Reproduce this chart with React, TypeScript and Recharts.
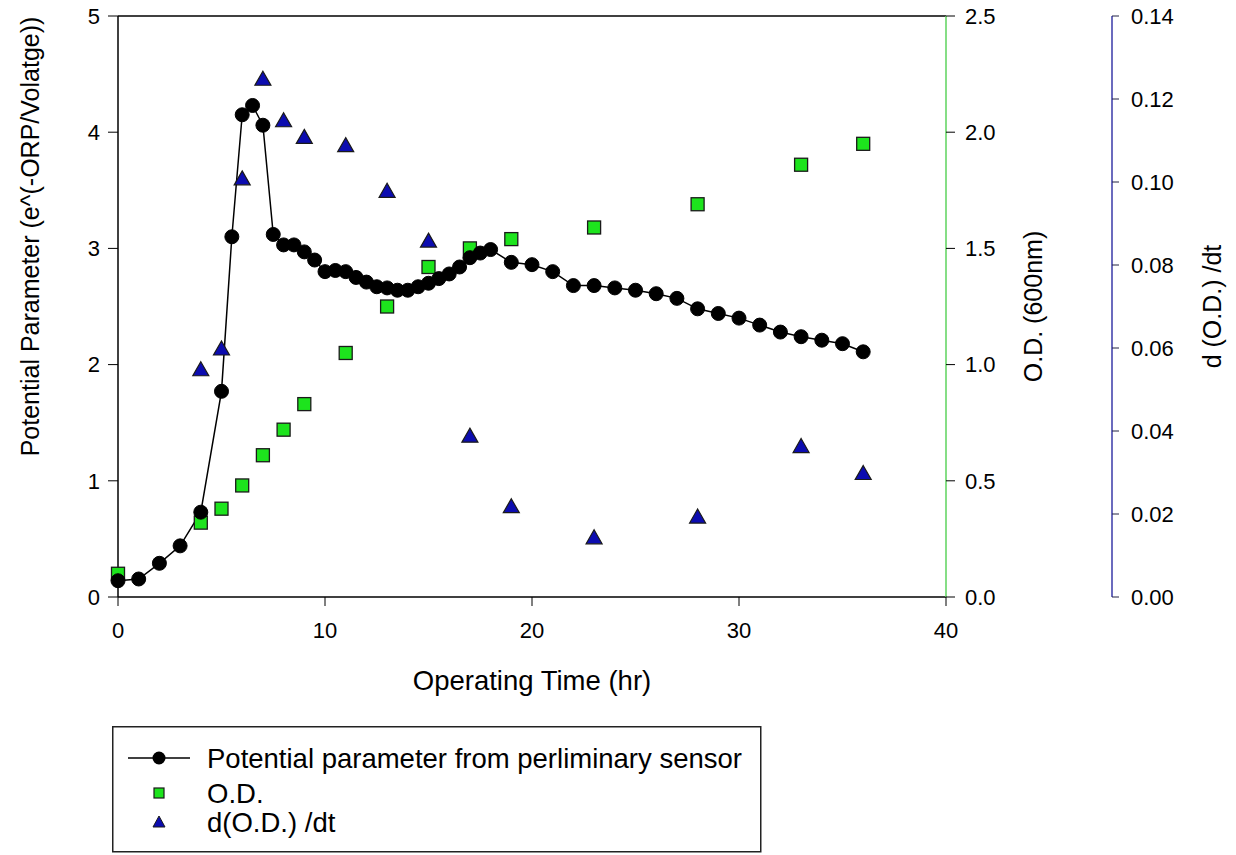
import React from "react";
import { ComposedChart, Line, Scatter, XAxis, YAxis, ReferenceLine, Legend } from "recharts";

// operating time (hr) and potential parameter from the sensor
const potentialTime = [
  0, 1, 2, 3, 4, 5, 5.5, 6, 6.5, 7, 7.5, 8, 8.5, 9, 9.5, 10, 10.5, 11, 11.5, 12, 12.5, 13, 13.5, 14,
  14.5, 15, 15.5, 16, 16.5, 17, 17.5, 18, 19, 20, 21, 22, 23, 24, 25, 26, 27, 28, 29, 30, 31, 32, 33,
  34, 35, 36,
];
const potentialValues = [
  0.14, 0.155, 0.29, 0.44, 0.73, 1.77, 3.1, 4.15, 4.23, 4.06, 3.12, 3.03, 3.03, 2.97, 2.9, 2.8, 2.81,
  2.8, 2.75, 2.71, 2.67, 2.66, 2.64, 2.64, 2.67, 2.7, 2.74, 2.78, 2.84, 2.92, 2.96, 2.99, 2.88, 2.86,
  2.8, 2.68, 2.68, 2.66, 2.64, 2.61, 2.57, 2.48, 2.44, 2.4, 2.34, 2.28, 2.24, 2.21, 2.18, 2.11,
];

// O.D. (600nm)
const odTime = [0, 4, 5, 6, 7, 8, 9, 11, 13, 15, 17, 19, 23, 28, 33, 36];
const odValues = [0.1, 0.32, 0.38, 0.48, 0.61, 0.72, 0.83, 1.05, 1.25, 1.42, 1.5, 1.54, 1.59, 1.69, 1.86, 1.95];

// d(O.D.)/dt
const rateTime = [4, 5, 6, 7, 8, 9, 11, 13, 15, 17, 19, 23, 28, 33, 36];
const rateValues = [0.055, 0.06, 0.101, 0.125, 0.115, 0.111, 0.109, 0.098, 0.086, 0.039, 0.022, 0.0145, 0.0195, 0.0365, 0.03];

const xTicks = [0, 10, 20, 30, 40];
const leftTicks = [0, 1, 2, 3, 4, 5];
const odTicks = [0, 0.5, 1, 1.5, 2, 2.5];
const rateTicks = [0, 0.02, 0.04, 0.06, 0.08, 0.1, 0.12, 0.14];

const potentialData = potentialTime.map((t, i) => ({ t, pp: potentialValues[i] }));
const odData = odTime.map((t, i) => ({ t, od: odValues[i] }));
const rateData = rateTime.map((t, i) => ({ t, rate: rateValues[i] }));

const GREEN = "#1de41d";
const BLUE = "#0c0cb0";
const FONT = "'Liberation Sans', Arial, sans-serif";

const SquareDot = (props: any) => {
  const { cx, cy } = props;
  if (cx == null || cy == null) return null;
  return <rect x={cx - 6.5} y={cy - 6.5} width={13} height={13} fill={GREEN} stroke="#1a1a1a" strokeWidth={1.3} />;
};

const TriangleDot = (props: any) => {
  const { cx, cy } = props;
  if (cx == null || cy == null) return null;
  return (
    <polygon
      points={`${cx},${cy - 7} ${cx + 8},${cy + 7} ${cx - 8},${cy + 7}`}
      fill={BLUE}
      stroke="#1a1a1a"
      strokeWidth={1.2}
    />
  );
};

// rotated axis title, placed from the axis box
const VTitle = (props: any) => {
  const { viewBox, dx = 0, dy = 0, text } = props;
  if (!viewBox) return null;
  const x = viewBox.x + dx;
  const y = viewBox.y + viewBox.height / 2 + dy;
  return (
    <text x={x} y={y} transform={`rotate(-90 ${x} ${y})`} textAnchor="middle" dominantBaseline="central" fontSize={25} fill="#000">
      {text}
    </text>
  );
};

const XTitle = (props: any) => {
  const { viewBox, text } = props;
  if (!viewBox) return null;
  return (
    <text x={viewBox.x + viewBox.width / 2} y={viewBox.y + 83} textAnchor="middle" dominantBaseline="central" fontSize={27.5} fill="#000">
      {text}
    </text>
  );
};

const legendOrder = ["pp", "od", "rate"];
const legendRows = [32, 67, 96];

const LegendBox = (props: any) => {
  const payload = [...(props.payload || [])].sort(
    (a: any, b: any) => legendOrder.indexOf(a.dataKey) - legendOrder.indexOf(b.dataKey)
  );
  return (
    <svg width={650} height={127} style={{ display: "block" }}>
      <rect x={0.75} y={0.75} width={648} height={125} fill="#fff" stroke="#222" strokeWidth={1.5} />
      {payload.map((entry: any, i: number) => {
        const y = legendRows[i];
        const kind = entry.dataKey;
        return (
          <g key={entry.value}>
            {kind === "pp" && (
              <>
                <line x1={16} x2={78} y1={y} y2={y} stroke="#000" strokeWidth={1.5} />
                <circle cx={47} cy={y} r={6.5} fill="#000" />
              </>
            )}
            {kind === "od" && <rect x={42} y={y - 5} width={10} height={10} fill={GREEN} stroke="#1a1a1a" strokeWidth={1.2} />}
            {kind === "rate" && (
              <polygon points={`47,${y - 6} 53,${y + 5} 41,${y + 5}`} fill={BLUE} stroke="#1a1a1a" strokeWidth={1} />
            )}
            <text x={95} y={y} dominantBaseline="central" fontSize={27.5} fill="#000">
              {entry.value}
            </text>
          </g>
        );
      })}
    </svg>
  );
};

export default function App() {
  return (
    <div style={{ position: "fixed", left: 0, top: 0, width: 1236, height: 855, background: "#fff", fontFamily: FONT }}>
      <ComposedChart width={1236} height={855} data={potentialData} margin={{ top: 16, right: 0, bottom: 158, left: 0 }}>
        <XAxis
          dataKey="t"
          type="number"
          domain={[0, 40]}
          ticks={xTicks}
          interval={0}
          height={100}
          axisLine={{ stroke: "#000", strokeWidth: 1.5 }}
          tickLine={{ stroke: "#000" }}
          tickSize={9}
          tickMargin={16}
          tick={{ fill: "#000", fontSize: 22 }}
          label={<XTitle text="Operating Time (hr)" />}
        />
        <YAxis
          yAxisId="left"
          dataKey="pp"
          orientation="left"
          domain={[0, 5]}
          ticks={leftTicks}
          interval={0}
          width={118}
          axisLine={{ stroke: "#000", strokeWidth: 1.5 }}
          tickLine={{ stroke: "#000" }}
          tickSize={10}
          tickMargin={8}
          tick={{ fill: "#000", fontSize: 22 }}
          label={<VTitle dx={30} dy={-70} text="Potential Parameter (e^(-ORP/Volatge))" />}
        />
        <YAxis
          yAxisId="od"
          dataKey="od"
          orientation="right"
          domain={[0, 2.5]}
          ticks={odTicks}
          interval={0}
          width={166}
          axisLine={{ stroke: "#5ed35e", strokeWidth: 1.5 }}
          tickLine={{ stroke: "#000" }}
          tickSize={9}
          tickMargin={10}
          tickFormatter={(v: number) => v.toFixed(1)}
          tick={{ fill: "#000", fontSize: 22 }}
          label={<VTitle dx={87} text="O.D. (600nm)" />}
        />
        <YAxis
          yAxisId="rate"
          dataKey="rate"
          orientation="right"
          domain={[0, 0.14]}
          ticks={rateTicks}
          interval={0}
          width={124}
          axisLine={{ stroke: "#3a3aa8", strokeWidth: 1.5 }}
          tickLine={{ stroke: "#222244" }}
          tickSize={7}
          tickMargin={12}
          tickFormatter={(v: number) => v.toFixed(2)}
          tick={{ fill: "#000", fontSize: 22 }}
          label={<VTitle dx={100} text="d (O.D.) /dt" />}
        />
        <ReferenceLine yAxisId="left" y={5} stroke="#000" strokeWidth={1.5} />
        <Line
          yAxisId="left"
          dataKey="pp"
          name="Potential parameter from perliminary sensor"
          type="linear"
          stroke="#000"
          strokeWidth={1.5}
          dot={{ r: 7, fill: "#000", stroke: "#000", strokeWidth: 1 }}
          activeDot={false}
          isAnimationActive={false}
        />
        <Scatter yAxisId="od" data={odData} dataKey="od" name="O.D." fill={GREEN} shape={<SquareDot />} isAnimationActive={false} />
        <Scatter yAxisId="rate" data={rateData} dataKey="rate" name="d(O.D.) /dt" fill={BLUE} shape={<TriangleDot />} isAnimationActive={false} />
        <Legend
          layout="horizontal"
          verticalAlign="middle"
          align="center"
          content={<LegendBox />}
          wrapperStyle={{ left: 112, top: 726, width: 650, height: 127 }}
        />
      </ComposedChart>
    </div>
  );
}
